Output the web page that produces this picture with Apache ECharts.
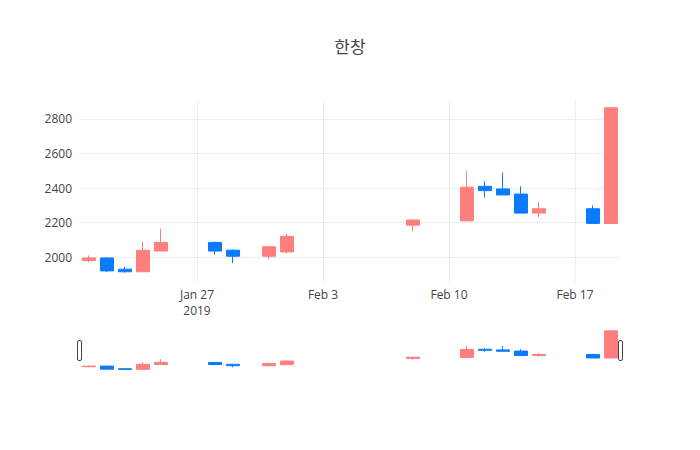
<!DOCTYPE html>
<html>
<head>
<meta charset="utf-8">
<script src="https://cdn.jsdelivr.net/npm/echarts@6/dist/echarts.min.js"></script>
<style>html,body{margin:0;background:#fff}#main{width:700px;height:450px}</style>
</head>
<body>
<div id="main"></div>
<script>
// 일별 시세 (시가, 종가, 저가, 고가)
var dates = ['2019-01-21', '2019-01-22', '2019-01-23', '2019-01-24', '2019-01-25',
    '2019-01-28', '2019-01-29', '2019-01-31', '2019-02-01', '2019-02-08',
    '2019-02-11', '2019-02-12', '2019-02-13', '2019-02-14', '2019-02-15',
    '2019-02-18', '2019-02-19'];
var opens  = [1980, 1995, 1930, 1915, 2035, 2085, 2040, 2005, 2030, 2185, 2210, 2410, 2395, 2365, 2255, 2280, 2195];
var closes = [1995, 1920, 1915, 2040, 2085, 2035, 2005, 2060, 2120, 2215, 2405, 2385, 2360, 2255, 2280, 2195, 2865];
var lows   = [1970, 1915, 1910, 1915, 2035, 2015, 1965, 1990, 2020, 2150, 2210, 2345, 2360, 2255, 2230, 2195, 2195];
var highs  = [2010, 2000, 1945, 2090, 2165, 2090, 2045, 2065, 2135, 2220, 2500, 2440, 2490, 2410, 2320, 2300, 2865];
var tickDates = ['2019-01-27', '2019-02-03', '2019-02-10', '2019-02-17'];
var tickLabels = ['Jan 27\n2019', 'Feb 3', 'Feb 10', 'Feb 17'];

var UP = '#ff7f7f', DOWN = '#0a7bff';

// 반나절 단위 카테고리: 1/20 12:00 ~ 2/19 12:00
var cats = [];
var t0 = Date.UTC(2019, 0, 20, 12);
for (var i = 0; i <= 60; i++) {
    var d = new Date(t0 + i * 12 * 3600 * 1000);
    cats.push(d.toISOString().slice(0, 13));
}
function catIndex(ds) { return cats.indexOf(ds + 'T00'); }

var candles = dates.map(function (ds, i) {
    return [catIndex(ds), opens[i], closes[i], lows[i], highs[i]];
});
var tickIdx = tickDates.map(catIndex);
function isTick(i) { return tickIdx.indexOf(i) >= 0; }

var chart = echarts.init(document.getElementById('main'), null, {renderer: 'svg'});

function xAxisCfg(gridIndex, showLabels) {
    return {
        type: 'category', gridIndex: gridIndex, data: cats, boundaryGap: false,
        axisLine: {show: false}, axisTick: {show: false},
        axisLabel: {
            show: showLabels, color: '#444', fontSize: 12, lineHeight: 16, margin: 3,
            fontFamily: 'Open Sans',
            interval: function (i) { return isTick(i); },
            formatter: function (v, i) { return tickLabels[tickIdx.indexOf(i)] || ''; }
        },
        splitLine: {
            show: showLabels, lineStyle: {color: '#eeeeee'},
            interval: function (i) { return isTick(i); }
        }
    };
}

var style = {color: UP, color0: DOWN, borderColor: UP, borderColor0: DOWN, borderWidth: 1};

chart.setOption({
    animation: false,
    title: {
        text: '한창', left: 'center', top: 32,
        textStyle: {fontFamily: 'Noto Sans CJK KR', fontSize: 17, fontWeight: 'normal', color: '#444'}
    },
    grid: [
        {left: 80, right: 80, top: 100, height: 183},
        {left: 80, right: 80, top: 329, height: 43}
    ],
    xAxis: [xAxisCfg(0, true), xAxisCfg(1, false)],
    yAxis: [
        {
            type: 'value', gridIndex: 0, min: 1850, max: 2910, splitNumber: 5,
            axisLine: {show: false}, axisTick: {show: false},
            axisLabel: {color: '#444', fontSize: 12, fontFamily: 'Open Sans', showMinLabel: false, showMaxLabel: false,
                formatter: function (v) { return String(v); }},
            splitLine: {lineStyle: {color: '#eeeeee'}, showMinLine: false, showMaxLine: false}
        },
        {
            type: 'value', gridIndex: 1, min: 1850, max: 2910,
            axisLine: {show: false}, axisTick: {show: false}, axisLabel: {show: false}, splitLine: {show: false}
        }
    ],
    series: [
        {
            type: 'candlestick', xAxisIndex: 0, yAxisIndex: 0, data: candles,
            encode: {x: 0, y: [1, 2, 3, 4]}, barWidth: 13, itemStyle: style
        },
        {
            type: 'candlestick', xAxisIndex: 1, yAxisIndex: 1, data: candles,
            encode: {x: 0, y: [1, 2, 3, 4]}, barWidth: 13, itemStyle: style, silent: true
        }
    ],
    graphic: [
        {type: 'rect', left: 77, top: 340, shape: {width: 4, height: 20, r: 1.5},
            style: {fill: '#fff', stroke: '#444', lineWidth: 1}},
        {type: 'rect', left: 618, top: 340, shape: {width: 4, height: 20, r: 1.5},
            style: {fill: '#fff', stroke: '#444', lineWidth: 1}}
    ]
});
</script>
</body>
</html>
